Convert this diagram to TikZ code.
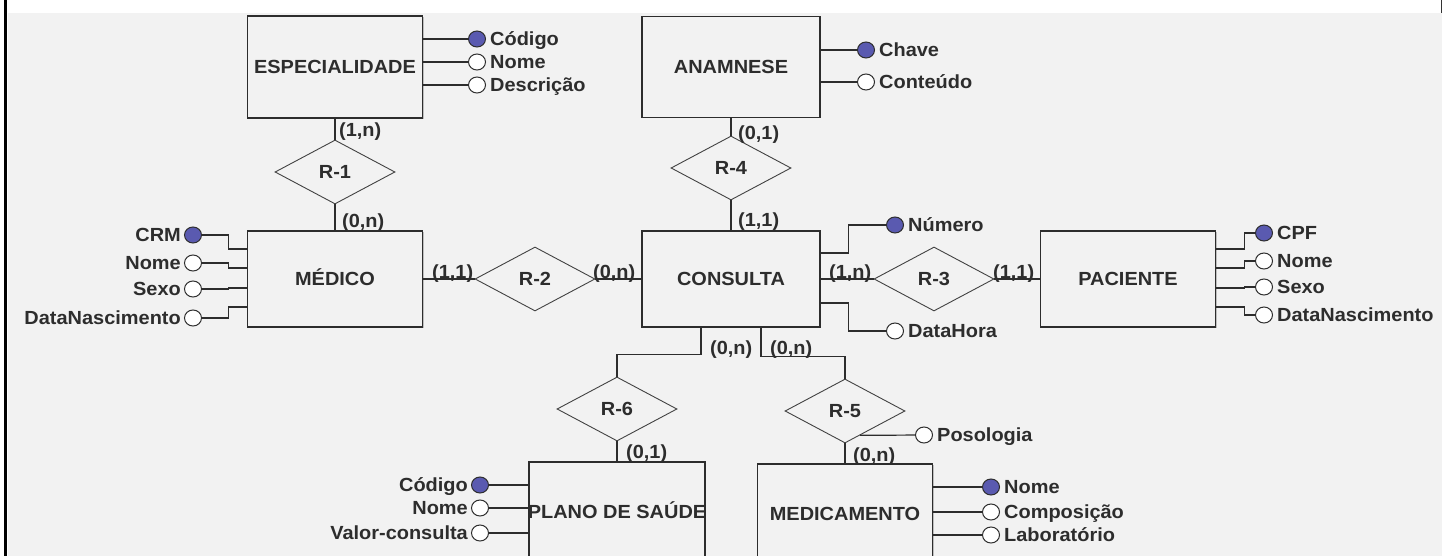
\documentclass[tikz,border=0pt]{standalone}
\usepackage{fontspec}
\setmainfont{Liberation Sans}[FakeStretch=1.05]
\usetikzlibrary{shapes.geometric,calc,shadows}
\definecolor{bgc}{RGB}{242,242,242}
\definecolor{inkc}{RGB}{45,45,45}
\definecolor{keyc}{RGB}{90,90,176}
\begin{document}
\begin{tikzpicture}[x=1pt,y=-1pt,
 txt/.style={font=\fontsize{19}{21}\selectfont\bfseries, text=inkc, inner sep=0pt, text height=13.6pt, text depth=0pt},
 entity/.style={txt, rectangle, draw=inkc, line width=1.5pt, fill=bgc, minimum width=175pt,
   drop shadow={shadow xshift=1pt, shadow yshift=-1pt, fill=black!45}},
 rel/.style={txt, diamond, draw=inkc!90, line width=0.9pt, fill=bgc, minimum width=120pt, minimum height=64pt, inner sep=0pt},
 keyattr/.style={ellipse, draw=inkc, line width=1pt, fill=keyc, minimum width=17pt, minimum height=16pt, inner sep=0pt},
 attr/.style={keyattr, fill=white},
 lbl/.style={txt},
 link/.style={draw=inkc, line width=1.2pt},
]
\useasboundingbox (0,0) rectangle (1442,556);
\clip (0,0) rectangle (1442,556);
\fill[white] (0,0) rectangle (1442,556);
\fill[bgc] (8,13) rectangle (1442,556);
\draw[line width=3pt, black] (5.5,0) -- (5.5,556);
\draw[line width=1pt, black!80] (1441,0) -- (1441,13);

% entities
\node[entity, minimum height=102pt] (esp) at (335,67) {ESPECIALIDADE};
\node[entity, minimum width=178pt, minimum height=101pt] (ana) at (731,67) {ANAMNESE};
\node[entity, minimum height=96pt] (med) at (335,279) {MÉDICO};
\node[entity, minimum width=178pt, minimum height=96pt] (con) at (731,279) {CONSULTA};
\node[entity, minimum height=96pt] (pac) at (1128,279) {PACIENTE};
\node[entity, minimum width=176pt, minimum height=100pt, inner xsep=-5pt] (pla) at (617,512) {PLANO DE SAÚDE};
\node[entity, minimum height=100pt] (mdc) at (845,514) {MEDICAMENTO};

% relationships
\node[rel] (r1) at (335,172) {R-1};
\node[rel] (r4) at (731,168) {R-4};
\node[rel] (r2) at (535,279) {R-2};
\node[rel] (r3) at (934,279) {R-3};
\node[rel] (r6) at (617,409) {R-6};
\node[rel] (r5) at (845,411) {R-5};

% relationship links
\draw[link] (esp) -- (r1);
\draw[link] (r1) -- (med);
\draw[link] (ana) -- (r4);
\draw[link] (r4) -- (con);
\draw[link] (med) -- (r2);
\draw[link] (r2) -- (con);
\draw[link] (con) -- (r3);
\draw[link] (r3) -- (pac);
\draw[link] (r6) -- (pla);
\draw[link] (r5) -- (mdc);
\draw[link] ([xshift=-30pt]con.south) -- ++(0,27) -| (r6.north);
\draw[link] ([xshift=30pt]con.south) -- ++(0,29) -| (r5.north);

% cardinalities
\node[lbl, anchor=west] (c1) at (339,130) {(1,n)};
\node[lbl, anchor=west] (c2) at (342,221) {(0,n)};
\node[lbl, anchor=west] (c3) at (738,133) {(0,1)};
\node[lbl, anchor=west] (c4) at (738,220) {(1,1)};
\node[lbl, anchor=west] (c5) at (432,272) {(1,1)};
\node[lbl, anchor=west] (c6) at (593,272) {(0,n)};
\node[lbl, anchor=west] (c7) at (829,272) {(1,n)};
\node[lbl, anchor=west] (c8) at (993,272) {(1,1)};
\node[lbl, anchor=west] (c9) at (710,348) {(0,n)};
\node[lbl, anchor=west] (c10) at (770,348) {(0,n)};
\node[lbl, anchor=west] (c11) at (626,452) {(0,1)};
\node[lbl, anchor=west] (c12) at (853,455) {(0,n)};

% attributes: ESPECIALIDADE
\node[keyattr] (k1) at (477,39) {};
\node[attr] (a1) at (477,62) {};
\node[attr] (a2) at (477,85) {};
\draw[link] (esp.east |- k1) -- (k1);
\draw[link] (esp.east |- a1) -- (a1);
\draw[link] (esp.east |- a2) -- (a2);
\node[lbl, anchor=west] (t1) at ([xshift=4pt]k1.east) {Código};
\node[lbl, anchor=west] (t2) at ([xshift=4pt]a1.east) {Nome};
\node[lbl, anchor=west] (t3) at ([xshift=4pt]a2.east) {Descrição};

% ANAMNESE
\node[keyattr] (k2) at (866,50) {};
\node[attr] (a3) at (866,82) {};
\draw[link] (ana.east |- k2) -- (k2);
\draw[link] (ana.east |- a3) -- (a3);
\node[lbl, anchor=west] (t4) at ([xshift=4pt]k2.east) {Chave};
\node[lbl, anchor=west] (t5) at ([xshift=4pt]a3.east) {Conteúdo};

% MÉDICO
\node[keyattr] (k3) at (193,235) {};
\node[attr] (a4) at (193,263) {};
\node[attr] (a5) at (193,289) {};
\node[attr] (a6) at (193,318) {};
\draw[link] (k3.east) -| ([xshift=-18pt,yshift=30pt]med.west) -- ([yshift=30pt]med.west);
\draw[link] (a4.east) -| ([xshift=-18pt,yshift=11pt]med.west) -- ([yshift=11pt]med.west);
\draw[link] (a5.east) -| ([xshift=-18pt,yshift=-9pt]med.west) -- ([yshift=-9pt]med.west);
\draw[link] (a6.east) -| ([xshift=-18pt,yshift=-28pt]med.west) -- ([yshift=-28pt]med.west);
\node[lbl, anchor=east] (t6) at ([xshift=-3pt]k3.west) {CRM};
\node[lbl, anchor=east] (t7) at ([xshift=-3pt]a4.west) {Nome};
\node[lbl, anchor=east] (t8) at ([xshift=-3pt]a5.west) {Sexo};
\node[lbl, anchor=east] (t9) at ([xshift=-3pt]a6.west) {DataNascimento};

% CONSULTA
\node[keyattr] (k4) at (895,225) {};
\node[attr] (a7) at (895,331) {};
\draw[link] ([yshift=26pt]con.east) -- ([xshift=28pt,yshift=26pt]con.east) |- (k4.west);
\draw[link] ([yshift=-24pt]con.east) -- ([xshift=28pt,yshift=-24pt]con.east) |- (a7.west);
\node[lbl, anchor=west] (t10) at ([xshift=4pt]k4.east) {Número};
\node[lbl, anchor=west] (t11) at ([xshift=4pt]a7.east) {DataHora};

% PACIENTE
\node[keyattr] (k5) at (1264,233) {};
\node[attr] (a8) at (1264,261) {};
\node[attr] (a9) at (1264,287) {};
\node[attr] (a10) at (1264,315) {};
\draw[link] ([yshift=30pt]pac.east) -- ([xshift=28pt,yshift=30pt]pac.east) |- (k5.west);
\draw[link] ([yshift=11pt]pac.east) -- ([xshift=28pt,yshift=11pt]pac.east) |- (a8.west);
\draw[link] ([yshift=-9pt]pac.east) -- ([xshift=28pt,yshift=-9pt]pac.east) |- (a9.west);
\draw[link] ([yshift=-28pt]pac.east) -- ([xshift=28pt,yshift=-28pt]pac.east) |- (a10.west);
\node[lbl, anchor=west] (t12) at ([xshift=4pt]k5.east) {CPF};
\node[lbl, anchor=west] (t13) at ([xshift=4pt]a8.east) {Nome};
\node[lbl, anchor=west] (t14) at ([xshift=4pt]a9.east) {Sexo};
\node[lbl, anchor=west] (t15) at ([xshift=4pt]a10.east) {DataNascimento};

% PLANO DE SAÚDE
\node[keyattr] (k6) at (480,485) {};
\node[attr] (a11) at (480,508) {};
\node[attr] (a12) at (480,533) {};
\draw[link] (k6) -- (pla.west |- k6);
\draw[link] (a11) -- (pla.west |- a11);
\draw[link] (a12) -- (pla.west |- a12);
\node[lbl, anchor=east] (t16) at ([xshift=-3pt]k6.west) {Código};
\node[lbl, anchor=east] (t17) at ([xshift=-3pt]a11.west) {Nome};
\node[lbl, anchor=east] (t18) at ([xshift=-3pt]a12.west) {Valor-consulta};

% MEDICAMENTO
\node[keyattr] (k7) at (991,487) {};
\node[attr] (a13) at (991,512) {};
\node[attr] (a14) at (991,535) {};
\draw[link] (mdc.east |- k7) -- (k7);
\draw[link] (mdc.east |- a13) -- (a13);
\draw[link] (mdc.east |- a14) -- (a14);
\node[lbl, anchor=west] (t19) at ([xshift=4pt]k7.east) {Nome};
\node[lbl, anchor=west] (t20) at ([xshift=4pt]a13.east) {Composição};
\node[lbl, anchor=west] (t21) at ([xshift=4pt]a14.east) {Laboratório};

% R-5 attribute
\node[attr] (a15) at (924,435) {};
\draw[link] ($(r5.east)!0.75!(r5.south)$) -- (a15);
\node[lbl, anchor=west] (t22) at ([xshift=4pt]a15.east) {Posologia};
\end{tikzpicture}
\end{document}
